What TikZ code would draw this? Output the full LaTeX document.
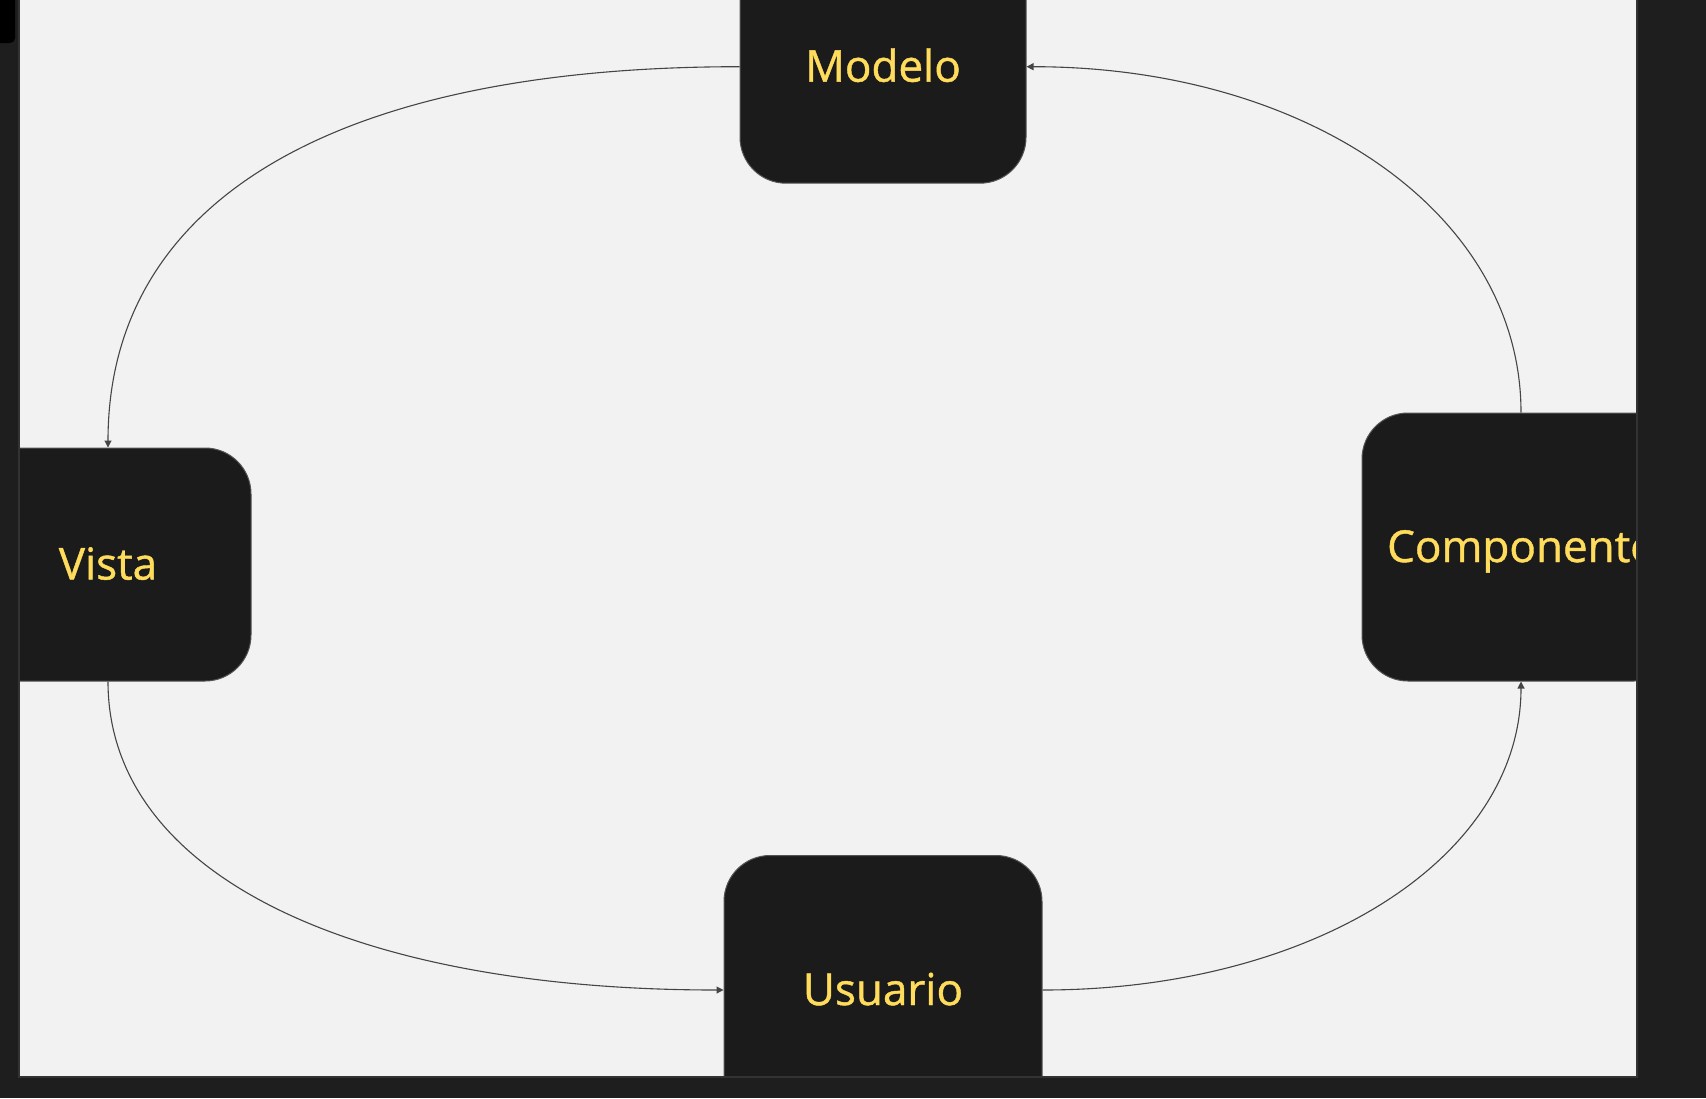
\documentclass[tikz,border=0pt]{standalone}
\usepackage{fontspec}
\setmainfont{Open Sans}
\newfontfamily\cajafont{Open Sans}[FakeBold=1]
\usetikzlibrary{arrows.meta, positioning}
\definecolor{fondo}{HTML}{1E1E1E}
\definecolor{lienzo}{HTML}{F2F2F2}
\definecolor{borde}{HTML}{333333}
\definecolor{cajanegra}{HTML}{1B1B1B}
\definecolor{amarillo}{HTML}{FFDC5C}
\definecolor{linea}{HTML}{454545}

\begin{document}
\begin{tikzpicture}[x=0.5pt, y=-0.5pt,
    bloque/.style={fill=cajanegra, draw=cajanegra!75!white, line width=0.5pt,
        rounded corners=23pt, text=amarillo, font=\cajafont\fontsize{22}{26}\selectfont,
        text height=15pt, text depth=0pt, inner sep=0pt},
    flecha/.style={draw=linea, line width=0.55pt, -{Triangle[length=3.5pt, width=3.5pt]}}]
    \useasboundingbox (0,0) rectangle (1706,1098);
    \fill[fondo] (0,0) rectangle (1706,1098);
    \fill[black, rounded corners=2.5pt] (-20,-20) rectangle (15,43);
    \fill[lienzo] (20,-10) rectangle (1636,1076);

    % cajas, recortadas por el lienzo
    \begin{scope}
        \clip (20,0) rectangle (1636,1076);
        \node[bloque, minimum width=143pt, minimum height=116.5pt] (modelo) at (883,66.7) {Modelo};
        \node[bloque, minimum width=143pt, minimum height=116.5pt] (vista) at (108,564.5) {Vista};
        \node[bloque, minimum width=159pt, minimum height=134pt] (componente) at (1521,547) {Componente};
        \node[bloque, minimum width=159pt, minimum height=134.5pt] (usuario) at (883,990) {Usuario};
    \end{scope}
    \draw[borde, line width=1pt] (19,-10) -- (19,1077) -- (1637,1077) -- (1637,-10);

    % conexiones
    \draw[flecha] (modelo.west) to[out=180, in=90, out distance=200pt, in distance=125pt] (vista.north);
    \draw[flecha] (vista.south) to[out=-90, in=180, out distance=97pt, in distance=185pt] (usuario.west);
    \draw[flecha] (usuario.east) to[out=0, in=-90, out distance=136pt, in distance=88pt] (componente.south);
    \draw[flecha] (componente.north) to[out=90, in=0, out distance=100pt, in distance=140pt] (modelo.east);
\end{tikzpicture}
\end{document}
